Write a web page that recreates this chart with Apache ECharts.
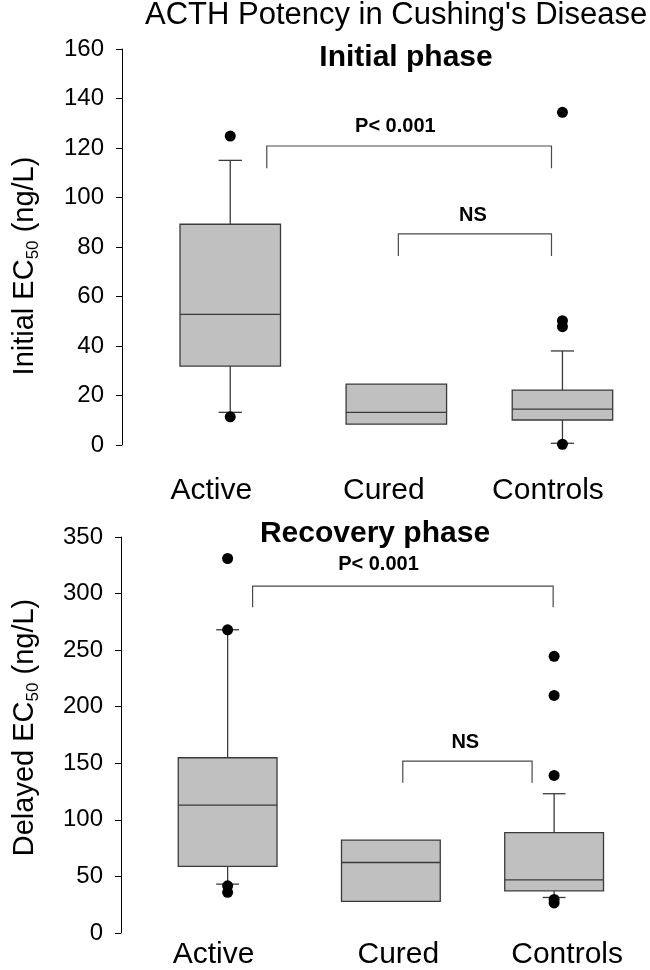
<!DOCTYPE html>
<html>
<head>
<meta charset="utf-8">
<script src="https://cdn.jsdelivr.net/npm/echarts@6/dist/echarts.min.js"></script>
<style>
html,body{margin:0;padding:0;background:#fff;}
#c{width:650px;height:970px;}
</style>
</head>
<body>
<div id="c"></div>
<script>
// ---------- data ----------
const categories = ['Active', 'Cured', 'Controls'];
const initialTicks = [0, 20, 40, 60, 80, 100, 120, 140, 160];
const recoveryTicks = [0, 50, 100, 150, 200, 250, 300, 350];
// [min, Q1, median, Q3, max] per category
const initialStats = [
  [13.2, 31.9, 52.8, 89.2, 115],
  [8.4, 8.4, 13.2, 24.6, 24.6],
  [0.7, 10.1, 14.5, 22.2, 38]
];
// [categoryIndex, value]
const initialOutliers = [[0, 124.8], [0, 11.4], [2, 134.4], [2, 50.2], [2, 47.8], [2, 0.3]];
const recoveryStats = [
  [43.2, 58.8, 113.1, 154.9, 268],
  [27.9, 27.9, 62.3, 82, 82],
  [31.4, 37.3, 47, 88.7, 123.1]
];
const recoveryOutliers = [[0, 331], [0, 268], [0, 41.7], [0, 36], [2, 244.5], [2, 210], [2, 139.3], [2, 29.6], [2, 26.6]];
// brackets: [xStart, xEnd, yTop, yEnd] in category units / axis values
const initialBrackets = [[0.22, 1.934, 120.8, 111.8], [1.012, 1.934, 85.3, 76.4]];
const initialBracketPos = [[0.994, 128.6], [1.461, 92.9]];
const initialBracketText = ['P< 0.001', 'NS'];
const recoveryBrackets = [[0.153, 1.994, 306.5, 288], [1.073, 1.865, 151.9, 132.9]];
const recoveryBracketPos = [[0.924, 325.3], [1.456, 168.1]];
const recoveryBracketText = ['P< 0.001', 'NS'];

// ---------- layout / style ----------
const FONT = '"Liberation Sans", Arial, Helvetica, sans-serif';
const topLabelShift = [-19, -12.5, -14.5];
const botLabelShift = [-14, 7.5, 13];

function labelItems(shifts) {
  return categories.map((c, i) => {
    const d = shifts[i];
    return { value: c, textStyle: { padding: d < 0 ? [0, -2 * d, 0, 0] : [0, 0, 0, 2 * d] } };
  });
}

function boxSeries(stats, xi, yi) {
  return {
    type: 'custom', xAxisIndex: xi, yAxisIndex: yi, silent: true, clip: false,
    data: stats.map((s, i) => [i].concat(s)),
    encode: { x: 0, y: [1, 2, 3, 4, 5] },
    renderItem: function (params, api) {
      const i = api.value(0);
      const unit = api.size([1, 0])[0];
      const half = unit * 0.3025;
      const capHalf = unit * 0.07;
      const v = [1, 2, 3, 4, 5].map(k => api.value(k));
      const p = v.map(val => api.coord([i, val]));
      const cx = p[0][0];
      const ls = { stroke: '#3a3a3a', lineWidth: 1.3 };
      const ch = [];
      if (v[4] > v[3]) {
        ch.push({ type: 'line', shape: { x1: cx, y1: p[4][1], x2: cx, y2: p[3][1] }, style: ls });
        ch.push({ type: 'line', shape: { x1: cx - capHalf, y1: p[4][1], x2: cx + capHalf, y2: p[4][1] }, style: ls });
      }
      if (v[0] < v[1]) {
        ch.push({ type: 'line', shape: { x1: cx, y1: p[1][1], x2: cx, y2: p[0][1] }, style: ls });
        ch.push({ type: 'line', shape: { x1: cx - capHalf, y1: p[0][1], x2: cx + capHalf, y2: p[0][1] }, style: ls });
      }
      ch.push({ type: 'rect', shape: { x: cx - half, y: p[3][1], width: 2 * half, height: p[1][1] - p[3][1] },
        style: { fill: '#c0c0c0', stroke: '#3a3a3a', lineWidth: 1.3 } });
      ch.push({ type: 'line', shape: { x1: cx - half, y1: p[2][1], x2: cx + half, y2: p[2][1] }, style: ls });
      return { type: 'group', children: ch };
    }
  };
}

function outlierSeries(data, xi, yi) {
  return {
    type: 'scatter', xAxisIndex: xi, yAxisIndex: yi, silent: true,
    data: data, symbol: 'circle', symbolSize: 11,
    itemStyle: { color: '#000', opacity: 1 }, z: 5
  };
}

function bracketSeries(brackets, xi, yi) {
  return {
    type: 'custom', xAxisIndex: xi, yAxisIndex: yi, silent: true, clip: false,
    data: brackets,
    encode: { x: [0, 1], y: [2, 3] },
    renderItem: function (params, api) {
      const a = api.coord([api.value(0), api.value(3)]);
      const b = api.coord([api.value(0), api.value(2)]);
      const c = api.coord([api.value(1), api.value(2)]);
      const d = api.coord([api.value(1), api.value(3)]);
      return { type: 'polyline', shape: { points: [a, b, c, d] },
        style: { stroke: '#4a4a4a', lineWidth: 1.2, fill: null } };
    }
  };
}

function bracketTextSeries(pos, texts, xi, yi) {
  return {
    type: 'custom', xAxisIndex: xi, yAxisIndex: yi, silent: true, clip: false,
    data: pos,
    encode: { x: 0, y: 1 },
    renderItem: function (params, api) {
      const pt = api.coord([api.value(0), api.value(1)]);
      return { type: 'text', x: pt[0], y: pt[1],
        style: { text: texts[params.dataIndex], align: 'center', verticalAlign: 'middle',
          fontFamily: FONT, fontWeight: 'bold', fontSize: 20, fill: '#000' } };
    }
  };
}

function yAxisDef(gridIndex, ticks, name, offset, gap, namePad) {
  return {
    type: 'value', gridIndex: gridIndex,
    min: ticks[0], max: ticks[ticks.length - 1], interval: ticks[1] - ticks[0],
    offset: offset,
    axisLine: { show: true, onZero: false, lineStyle: { color: '#000', width: 1 } },
    axisTick: { show: true, length: 6, lineStyle: { color: '#000', width: 1 } },
    splitLine: { show: false },
    axisLabel: { fontSize: 24, color: '#000', margin: 18, fontFamily: FONT },
    name: name, nameLocation: 'middle', nameGap: gap,
    nameTextStyle: {
      fontSize: 29, color: '#000', fontFamily: FONT, lineHeight: 34, padding: namePad,
      rich: { sub: { fontSize: 17, lineHeight: 12, verticalAlign: 'bottom', color: '#000', fontFamily: FONT } }
    }
  };
}

function catAxis(gridIndex, shifts, margin) {
  return {
    type: 'category', gridIndex: gridIndex, data: labelItems(shifts),
    axisLine: { show: false, onZero: false }, axisTick: { show: false }, splitLine: { show: false },
    axisLabel: { fontSize: 30, color: '#000', margin: margin, fontFamily: FONT, interval: 0 }
  };
}

function valXAxis(gridIndex) {
  return { type: 'value', gridIndex: gridIndex, min: -0.5, max: 2.5, show: false,
    axisLine: { onZero: false } };
}

const chart = echarts.init(document.getElementById('c'), null, { renderer: 'canvas' });
chart.setOption({
  animation: false,
  backgroundColor: '#fff',
  title: [
    { text: "ACTH Potency in Cushing's Disease", left: 145, top: 0, padding: 0,
      textStyle: { fontFamily: FONT, fontSize: 31, fontWeight: 'normal', color: '#000' } },
    { text: 'Initial phase', left: 406, top: 43, padding: 0, textAlign: 'center',
      textStyle: { fontFamily: FONT, fontSize: 30, fontWeight: 'bold', color: '#000' } },
    { text: 'Recovery phase', left: 375, top: 519, padding: 0, textAlign: 'center',
      textStyle: { fontFamily: FONT, fontSize: 30, fontWeight: 'bold', color: '#000' } }
  ],
  grid: [
    { left: 144.5, right: 4.5, top: 49, height: 396, containLabel: false },
    { left: 133.25, right: 14.25, top: 537, height: 397, containLabel: false }
  ],
  xAxis: [catAxis(0, topLabelShift, 31), valXAxis(0), catAxis(1, botLabelShift, 7), valXAxis(1)],
  yAxis: [
    yAxisDef(0, initialTicks, 'Initial EC{sub|50} (ng/L)', 25.2, 80, [0, 38, 0, 0]),
    yAxisDef(1, recoveryTicks, 'Delayed EC{sub|50} (ng/L)', 25, 79, [0, 0, 0, 15])
  ],
  series: [
    boxSeries(initialStats, 1, 0),
    outlierSeries(initialOutliers, 1, 0),
    bracketSeries(initialBrackets, 1, 0),
    bracketTextSeries(initialBracketPos, initialBracketText, 1, 0),
    boxSeries(recoveryStats, 3, 1),
    outlierSeries(recoveryOutliers, 3, 1),
    bracketSeries(recoveryBrackets, 3, 1),
    bracketTextSeries(recoveryBracketPos, recoveryBracketText, 3, 1)
  ]
});
</script>
</body>
</html>
